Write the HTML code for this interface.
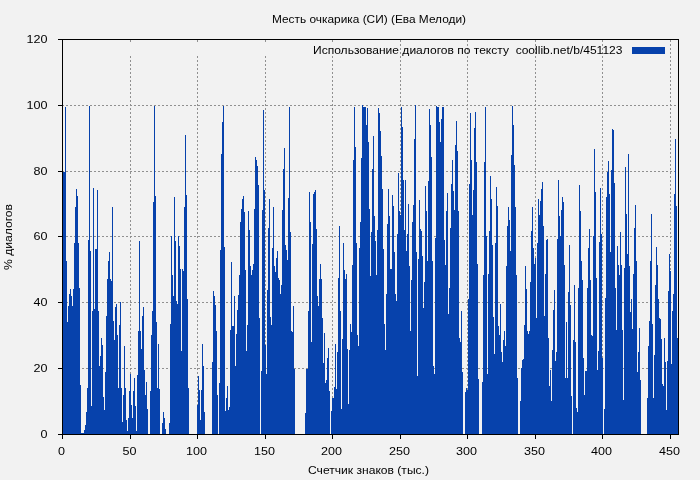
<!DOCTYPE html>
<html><head><meta charset="utf-8"><title>chart</title>
<style>
html,body{margin:0;padding:0;background:#f2f2f2;}
body{width:700px;height:480px;overflow:hidden;}
svg{display:block;}
text{font-family:"Liberation Sans",sans-serif;font-size:11px;fill:#000;}
</style></head><body>
<svg width="700" height="480" viewBox="0 0 700 480">
<rect x="0" y="0" width="700" height="480" fill="#f2f2f2"/>

<g stroke="#909090" stroke-width="1" stroke-dasharray="2 2" shape-rendering="crispEdges" fill="none">
<line x1="62" y1="368.5" x2="678" y2="368.5"/>
<line x1="62" y1="302.5" x2="678" y2="302.5"/>
<line x1="62" y1="236.5" x2="678" y2="236.5"/>
<line x1="62" y1="171.5" x2="678" y2="171.5"/>
<line x1="62" y1="105.5" x2="678" y2="105.5"/>
<line x1="130.5" y1="40" x2="130.5" y2="42"/>
<line x1="130.5" y1="56" x2="130.5" y2="434"/>
<line x1="197.5" y1="40" x2="197.5" y2="42"/>
<line x1="197.5" y1="56" x2="197.5" y2="434"/>
<line x1="265.5" y1="40" x2="265.5" y2="42"/>
<line x1="265.5" y1="56" x2="265.5" y2="434"/>
<line x1="332.5" y1="40" x2="332.5" y2="42"/>
<line x1="332.5" y1="56" x2="332.5" y2="434"/>
<line x1="400.5" y1="40" x2="400.5" y2="434"/>
<line x1="467.5" y1="40" x2="467.5" y2="434"/>
<line x1="535.5" y1="40" x2="535.5" y2="434"/>
<line x1="602.5" y1="40" x2="602.5" y2="434"/>
<line x1="670.5" y1="40" x2="670.5" y2="434"/>
</g>
<path d="M63,434.5 L63,172 L64,172 L64,172 L65,172 L65,107 L66,107 L66,261 L67,261 L67,322 L68,322 L68,306 L69,306 L69,294 L70,294 L70,289 L71,289 L71,296 L72,296 L72,306 L73,306 L73,289 L74,289 L74,243 L75,243 L75,207 L76,207 L76,189 L77,189 L77,196 L78,196 L78,243 L79,243 L79,288 L80,288 L80,385 L81,385 L81,433 L82,433 L82,433 L83,433 L83,433 L84,433 L84,430 L85,430 L85,425 L86,425 L86,412 L87,412 L87,388 L88,388 L88,240 L89,240 L89,106 L90,106 L90,251 L91,251 L91,406 L92,406 L92,311 L93,311 L93,188 L94,188 L94,309 L95,309 L95,249 L96,249 L96,249 L97,249 L97,190 L98,190 L98,311 L99,311 L99,366 L100,366 L100,356 L101,356 L101,338 L102,338 L102,345 L103,345 L103,397 L104,397 L104,410 L105,410 L105,372 L106,372 L106,316 L107,316 L107,279 L108,279 L108,261 L109,261 L109,252 L110,252 L110,279 L111,279 L111,281 L112,281 L112,207 L113,207 L113,321 L114,321 L114,340 L115,340 L115,307 L116,307 L116,304 L117,304 L117,335 L118,335 L118,388 L119,388 L119,325 L120,325 L120,302 L121,302 L121,388 L122,388 L122,422 L123,422 L123,395 L124,395 L124,346 L125,346 L125,388 L126,388 L126,420 L127,420 L127,431 L128,431 L128,418 L129,418 L129,391 L130,391 L130,374 L131,374 L131,405 L132,405 L132,418 L133,418 L133,391 L134,391 L134,378 L135,378 L135,406 L136,406 L136,431 L137,431 L137,375 L138,375 L138,331 L139,331 L139,241 L140,241 L140,331 L141,331 L141,349 L142,349 L142,316 L143,316 L143,307 L144,307 L144,370 L145,370 L145,395 L146,395 L146,382 L147,382 L147,409 L148,409 L148,434 L149,434 L149,434 L150,434 L150,391 L151,391 L151,335 L152,335 L152,311 L153,311 L153,202 L154,202 L154,106 L155,106 L155,196 L156,196 L156,322 L157,322 L157,388 L158,388 L158,344 L159,344 L159,389 L160,389 L160,434 L161,434 L161,434 L162,434 L162,423 L163,423 L163,412 L164,412 L164,418 L165,418 L165,429 L166,429 L166,434 L167,434 L167,434 L168,434 L168,434 L169,434 L169,423 L170,423 L170,324 L171,324 L171,236 L172,236 L172,275 L173,275 L173,296 L174,296 L174,197 L175,197 L175,241 L176,241 L176,301 L177,301 L177,304 L178,304 L178,236 L179,236 L179,246 L180,246 L180,269 L181,269 L181,351 L182,351 L182,269 L183,269 L183,271 L184,271 L184,207 L185,207 L185,135 L186,135 L186,195 L187,195 L187,299 L188,299 L188,388 L189,388 L189,434 L190,434 L190,434 L191,434 L191,434 L192,434 L192,434 L193,434 L193,434 L194,434 L194,434 L195,434 L195,434 L196,434 L196,434 L197,434 L197,405 L198,405 L198,376 L199,376 L199,390 L200,390 L200,420 L201,420 L201,390 L202,390 L202,344 L203,344 L203,366 L204,366 L204,412 L205,412 L205,434 L206,434 L206,434 L207,434 L207,434 L208,434 L208,434 L209,434 L209,434 L210,434 L210,434 L211,434 L211,434 L212,434 L212,362 L213,362 L213,291 L214,291 L214,296 L215,296 L215,305 L216,305 L216,331 L217,331 L217,395 L218,395 L218,434 L219,434 L219,383 L220,383 L220,250 L221,250 L221,154 L222,154 L222,122 L223,122 L223,106 L224,106 L224,247 L225,247 L225,411 L226,411 L226,398 L227,398 L227,386 L228,386 L228,410 L229,410 L229,407 L230,407 L230,330 L231,330 L231,262 L232,262 L232,326 L233,326 L233,326 L234,326 L234,296 L235,296 L235,366 L236,366 L236,334 L237,334 L237,310 L238,310 L238,295 L239,295 L239,275 L240,275 L240,222 L241,222 L241,209 L242,209 L242,199 L243,199 L243,196 L244,196 L244,212 L245,212 L245,270 L246,270 L246,351 L247,351 L247,325 L248,325 L248,211 L249,211 L249,230 L250,230 L250,266 L251,266 L251,275 L252,275 L252,270 L253,270 L253,264 L254,264 L254,209 L255,209 L255,157 L256,157 L256,160 L257,160 L257,166 L258,166 L258,185 L259,185 L259,318 L260,318 L260,434 L261,434 L261,371 L262,371 L262,210 L263,210 L263,110 L264,110 L264,190 L265,190 L265,345 L266,345 L266,374 L267,374 L267,290 L268,290 L268,228 L269,228 L269,199 L270,199 L270,317 L271,317 L271,325 L272,325 L272,248 L273,248 L273,207 L274,207 L274,266 L275,266 L275,272 L276,272 L276,258 L277,258 L277,251 L278,251 L278,278 L279,278 L279,280 L280,280 L280,294 L281,294 L281,285 L282,285 L282,210 L283,210 L283,169 L284,169 L284,148 L285,148 L285,245 L286,245 L286,250 L287,250 L287,260 L288,260 L288,198 L289,198 L289,107 L290,107 L290,232 L291,232 L291,331 L292,331 L292,332 L293,332 L293,306 L294,306 L294,369 L295,369 L295,434 L296,434 L296,434 L297,434 L297,434 L298,434 L298,434 L299,434 L299,434 L300,434 L300,434 L301,434 L301,434 L302,434 L302,434 L303,434 L303,434 L304,434 L304,434 L305,434 L305,413 L306,413 L306,369 L307,369 L307,369 L308,369 L308,311 L309,311 L309,192 L310,192 L310,222 L311,222 L311,342 L312,342 L312,244 L313,244 L313,194 L314,194 L314,192 L315,192 L315,190 L316,190 L316,229 L317,229 L317,296 L318,296 L318,306 L319,306 L319,279 L320,279 L320,264 L321,264 L321,279 L322,279 L322,318 L323,318 L323,363 L324,363 L324,333 L325,333 L325,383 L326,383 L326,380 L327,380 L327,358 L328,358 L328,348 L329,348 L329,391 L330,391 L330,434 L331,434 L331,411 L332,411 L332,398 L333,398 L333,398 L334,398 L334,387 L335,387 L335,344 L336,344 L336,389 L337,389 L337,352 L338,352 L338,278 L339,278 L339,226 L340,226 L340,311 L341,311 L341,409 L342,409 L342,339 L343,339 L343,243 L344,243 L344,270 L345,270 L345,279 L346,279 L346,274 L347,274 L347,349 L348,349 L348,404 L349,404 L349,350 L350,350 L350,324 L351,324 L351,332 L352,332 L352,265 L353,265 L353,160 L354,160 L354,107 L355,107 L355,147 L356,147 L356,243 L357,243 L357,335 L358,335 L358,346 L359,346 L359,248 L360,248 L360,222 L361,222 L361,158 L362,158 L362,105 L363,105 L363,107 L364,107 L364,107 L365,107 L365,107 L366,107 L366,125 L367,125 L367,108 L368,108 L368,142 L369,142 L369,209 L370,209 L370,276 L371,276 L371,232 L372,232 L372,169 L373,169 L373,136 L374,136 L374,216 L375,216 L375,241 L376,241 L376,275 L377,275 L377,230 L378,230 L378,108 L379,108 L379,113 L380,113 L380,131 L381,131 L381,156 L382,156 L382,189 L383,189 L383,249 L384,249 L384,324 L385,324 L385,350 L386,350 L386,294 L387,294 L387,224 L388,224 L388,189 L389,189 L389,216 L390,216 L390,269 L391,269 L391,269 L392,269 L392,195 L393,195 L393,206 L394,206 L394,252 L395,252 L395,294 L396,294 L396,301 L397,301 L397,234 L398,234 L398,173 L399,173 L399,211 L400,211 L400,215 L401,215 L401,107 L402,107 L402,127 L403,127 L403,180 L404,180 L404,230 L405,230 L405,180 L406,180 L406,251 L407,251 L407,234 L408,234 L408,204 L409,204 L409,266 L410,266 L410,331 L411,331 L411,280 L412,280 L412,222 L413,222 L413,205 L414,205 L414,139 L415,139 L415,105 L416,105 L416,252 L417,252 L417,376 L418,376 L418,259 L419,259 L419,200 L420,200 L420,229 L421,229 L421,231 L422,231 L422,256 L423,256 L423,308 L424,308 L424,282 L425,282 L425,186 L426,186 L426,211 L427,211 L427,261 L428,261 L428,181 L429,181 L429,109 L430,109 L430,125 L431,125 L431,157 L432,157 L432,261 L433,261 L433,366 L434,366 L434,374 L435,374 L435,238 L436,238 L436,106 L437,106 L437,107 L438,107 L438,107 L439,107 L439,122 L440,122 L440,142 L441,142 L441,119 L442,119 L442,107 L443,107 L443,107 L444,107 L444,240 L445,240 L445,265 L446,265 L446,211 L447,211 L447,193 L448,193 L448,314 L449,314 L449,288 L450,288 L450,228 L451,228 L451,184 L452,184 L452,160 L453,160 L453,191 L454,191 L454,210 L455,210 L455,145 L456,145 L456,121 L457,121 L457,151 L458,151 L458,211 L459,211 L459,338 L460,338 L460,342 L461,342 L461,311 L462,311 L462,372 L463,372 L463,434 L464,434 L464,434 L465,434 L465,392 L466,392 L466,388 L467,388 L467,390 L468,390 L468,299 L469,299 L469,184 L470,184 L470,113 L471,113 L471,160 L472,160 L472,215 L473,215 L473,190 L474,190 L474,128 L475,128 L475,112 L476,112 L476,162 L477,162 L477,264 L478,264 L478,379 L479,379 L479,434 L480,434 L480,434 L481,434 L481,434 L482,434 L482,382 L483,382 L483,275 L484,275 L484,162 L485,162 L485,107 L486,107 L486,236 L487,236 L487,374 L488,374 L488,274 L489,274 L489,231 L490,231 L490,176 L491,176 L491,199 L492,199 L492,245 L493,245 L493,317 L494,317 L494,354 L495,354 L495,243 L496,243 L496,187 L497,187 L497,206 L498,206 L498,326 L499,326 L499,335 L500,335 L500,304 L501,304 L501,352 L502,352 L502,362 L503,362 L503,340 L504,340 L504,331 L505,331 L505,346 L506,346 L506,266 L507,266 L507,226 L508,226 L508,207 L509,207 L509,220 L510,220 L510,251 L511,251 L511,155 L512,155 L512,106 L513,106 L513,125 L514,125 L514,165 L515,165 L515,207 L516,207 L516,275 L517,275 L517,378 L518,378 L518,434 L519,434 L519,434 L520,434 L520,401 L521,401 L521,368 L522,368 L522,360 L523,360 L523,359 L524,359 L524,325 L525,325 L525,266 L526,266 L526,289 L527,289 L527,331 L528,331 L528,334 L529,334 L529,331 L530,331 L530,282 L531,282 L531,231 L532,231 L532,207 L533,207 L533,248 L534,248 L534,264 L535,264 L535,258 L536,258 L536,318 L537,318 L537,243 L538,243 L538,199 L539,199 L539,215 L540,215 L540,201 L541,201 L541,189 L542,189 L542,182 L543,182 L543,226 L544,226 L544,316 L545,316 L545,274 L546,274 L546,240 L547,240 L547,239 L548,239 L548,338 L549,338 L549,386 L550,386 L550,370 L551,370 L551,401 L552,401 L552,350 L553,350 L553,310 L554,310 L554,290 L555,290 L555,361 L556,361 L556,352 L557,352 L557,239 L558,239 L558,180 L559,180 L559,216 L560,216 L560,236 L561,236 L561,210 L562,210 L562,197 L563,197 L563,202 L564,202 L564,265 L565,265 L565,378 L566,378 L566,322 L567,322 L567,378 L568,378 L568,292 L569,292 L569,245 L570,245 L570,305 L571,305 L571,396 L572,396 L572,434 L573,434 L573,340 L574,340 L574,285 L575,285 L575,342 L576,342 L576,408 L577,408 L577,412 L578,412 L578,288 L579,288 L579,185 L580,185 L580,211 L581,211 L581,261 L582,261 L582,280 L583,280 L583,358 L584,358 L584,395 L585,395 L585,371 L586,371 L586,371 L587,371 L587,288 L588,288 L588,248 L589,248 L589,229 L590,229 L590,280 L591,280 L591,335 L592,335 L592,336 L593,336 L593,236 L594,236 L594,149 L595,149 L595,192 L596,192 L596,278 L597,278 L597,370 L598,370 L598,351 L599,351 L599,242 L600,242 L600,188 L601,188 L601,234 L602,234 L602,358 L603,358 L603,434 L604,434 L604,409 L605,409 L605,298 L606,298 L606,197 L607,197 L607,172 L608,172 L608,161 L609,161 L609,194 L610,194 L610,252 L611,252 L611,170 L612,170 L612,129 L613,129 L613,130 L614,130 L614,183 L615,183 L615,288 L616,288 L616,330 L617,330 L617,246 L618,246 L618,265 L619,265 L619,275 L620,275 L620,232 L621,232 L621,265 L622,265 L622,330 L623,330 L623,400 L624,400 L624,268 L625,268 L625,167 L626,167 L626,214 L627,214 L627,254 L628,254 L628,154 L629,154 L629,266 L630,266 L630,312 L631,312 L631,299 L632,299 L632,329 L633,329 L633,274 L634,274 L634,228 L635,228 L635,205 L636,205 L636,261 L637,261 L637,372 L638,372 L638,352 L639,352 L639,328 L640,328 L640,380 L641,380 L641,434 L642,434 L642,434 L643,434 L643,434 L644,434 L644,434 L645,434 L645,434 L646,434 L646,434 L647,434 L647,398 L648,398 L648,346 L649,346 L649,321 L650,321 L650,261 L651,261 L651,214 L652,214 L652,324 L653,324 L653,398 L654,398 L654,355 L655,355 L655,285 L656,285 L656,247 L657,247 L657,265 L658,265 L658,299 L659,299 L659,318 L660,318 L660,319 L661,319 L661,339 L662,339 L662,384 L663,384 L663,386 L664,386 L664,338 L665,338 L665,362 L666,362 L666,410 L667,410 L667,361 L668,361 L668,291 L669,291 L669,254 L670,254 L670,271 L671,271 L671,364 L672,364 L672,311 L673,311 L673,294 L674,294 L674,194 L675,194 L675,139 L676,139 L676,206 L677,206 L677,338 L678,338 L678,434 L679,434 L679,434.5 Z" fill="#0742ac" stroke="none" shape-rendering="crispEdges"/>
<g stroke="#000" stroke-width="1" shape-rendering="crispEdges" fill="none">
<rect x="62.5" y="39.5" width="616" height="395"/>
<line x1="58" y1="434.5" x2="62" y2="434.5"/>
<line x1="58" y1="368.5" x2="62" y2="368.5"/>
<line x1="58" y1="302.5" x2="62" y2="302.5"/>
<line x1="58" y1="236.5" x2="62" y2="236.5"/>
<line x1="58" y1="171.5" x2="62" y2="171.5"/>
<line x1="58" y1="105.5" x2="62" y2="105.5"/>
<line x1="58" y1="39.5" x2="62" y2="39.5"/>
<line x1="62.5" y1="434" x2="62.5" y2="439"/>
<line x1="130.5" y1="434" x2="130.5" y2="439"/>
<line x1="197.5" y1="434" x2="197.5" y2="439"/>
<line x1="265.5" y1="434" x2="265.5" y2="439"/>
<line x1="332.5" y1="434" x2="332.5" y2="439"/>
<line x1="400.5" y1="434" x2="400.5" y2="439"/>
<line x1="467.5" y1="434" x2="467.5" y2="439"/>
<line x1="535.5" y1="434" x2="535.5" y2="439"/>
<line x1="602.5" y1="434" x2="602.5" y2="439"/>
<line x1="670.5" y1="434" x2="670.5" y2="439"/>
</g>
<rect x="632" y="47" width="33" height="7" fill="#0742ac" shape-rendering="crispEdges"/>
<g opacity="0.999">
<text x="40.6" y="438.3" textLength="7.0" lengthAdjust="spacingAndGlyphs">0</text>
<text x="33.6" y="372.3" textLength="14.0" lengthAdjust="spacingAndGlyphs">20</text>
<text x="33.6" y="306.3" textLength="14.0" lengthAdjust="spacingAndGlyphs">40</text>
<text x="33.6" y="240.3" textLength="14.0" lengthAdjust="spacingAndGlyphs">60</text>
<text x="33.6" y="175.3" textLength="14.0" lengthAdjust="spacingAndGlyphs">80</text>
<text x="26.6" y="109.3" textLength="21.0" lengthAdjust="spacingAndGlyphs">100</text>
<text x="26.6" y="43.3" textLength="21.0" lengthAdjust="spacingAndGlyphs">120</text>
<text x="58.0" y="455" textLength="7.0" lengthAdjust="spacingAndGlyphs">0</text>
<text x="122.5" y="455" textLength="14.0" lengthAdjust="spacingAndGlyphs">50</text>
<text x="186.0" y="455" textLength="21.0" lengthAdjust="spacingAndGlyphs">100</text>
<text x="254.0" y="455" textLength="21.0" lengthAdjust="spacingAndGlyphs">150</text>
<text x="321.0" y="455" textLength="21.0" lengthAdjust="spacingAndGlyphs">200</text>
<text x="389.0" y="455" textLength="21.0" lengthAdjust="spacingAndGlyphs">250</text>
<text x="456.0" y="455" textLength="21.0" lengthAdjust="spacingAndGlyphs">300</text>
<text x="524.0" y="455" textLength="21.0" lengthAdjust="spacingAndGlyphs">350</text>
<text x="591.0" y="455" textLength="21.0" lengthAdjust="spacingAndGlyphs">400</text>
<text x="659.0" y="455" textLength="21.0" lengthAdjust="spacingAndGlyphs">450</text>
<text x="272" y="23" textLength="194" lengthAdjust="spacingAndGlyphs">Месть очкарика (СИ) (Ева Мелоди)</text>
<text x="313" y="54" textLength="309.5" lengthAdjust="spacingAndGlyphs" xml:space="preserve">Использование диалогов по тексту  coollib.net/b/451123</text>
<text x="308" y="474" textLength="121" lengthAdjust="spacingAndGlyphs">Счетчик знаков (тыс.)</text>
<text transform="translate(12,270) rotate(-90)" textLength="66" lengthAdjust="spacingAndGlyphs">% диалогов</text>
</g>
</svg></body></html>
